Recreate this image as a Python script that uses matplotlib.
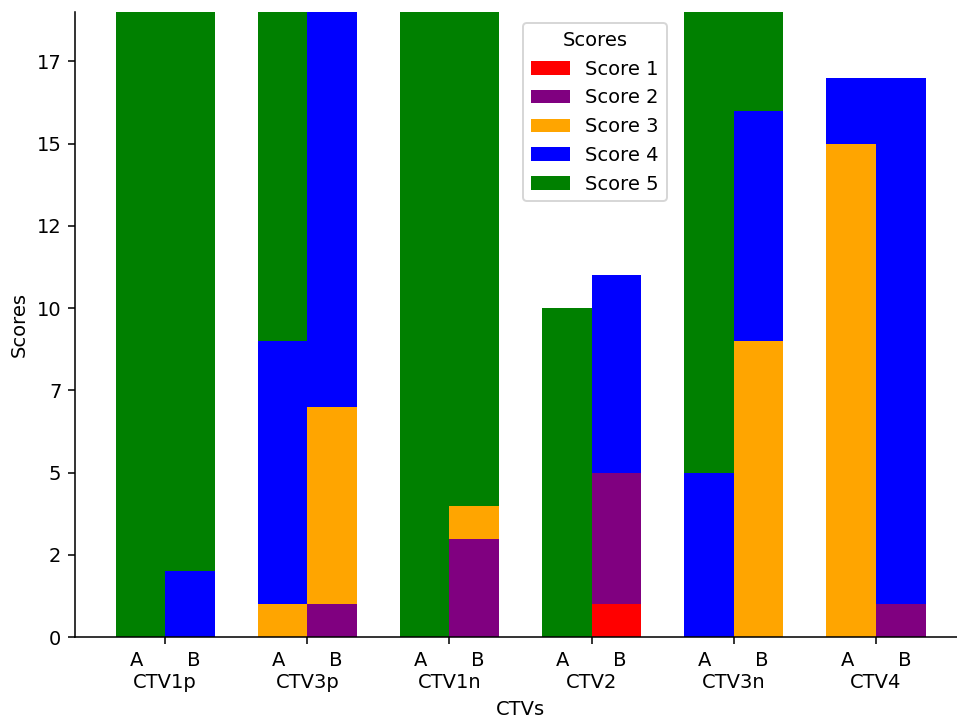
import numpy as np
import matplotlib
matplotlib.use("Agg")
import matplotlib.pyplot as plt
from matplotlib.ticker import FuncFormatter, MultipleLocator

ctvs = ['CTV1p', 'CTV3p', 'CTV1n', 'CTV2', 'CTV3n', 'CTV4']
readers = ['A', 'B']

# counts per bar, ordered CTV1p A, CTV1p B, CTV3p A, CTV3p B, ...
score1 = [0, 0, 0, 0, 0, 0, 0, 1, 0, 0, 0, 0]
score2 = [0, 0, 0, 1, 0, 3, 0, 4, 0, 0, 0, 1]
score3 = [0, 0, 1, 6, 0, 1, 0, 0, 0, 9, 15, 0]
score4 = [0, 2, 8, 13, 0, 0, 0, 6, 5, 7, 2, 16]
score5 = [20, 18, 11, 0, 20, 16, 10, 0, 15, 4, 0, 0]

scores = [score1, score2, score3, score4, score5]
labels = ['Score 1', 'Score 2', 'Score 3', 'Score 4', 'Score 5']
colors = ['red', 'purple', 'orange', 'blue', 'green']

DPI = 140
fig = plt.figure(figsize=(957/DPI, 715/DPI), dpi=DPI)
ax = fig.add_axes([75/957, 0.1087, 891/957, 0.8746])

width = 0.35
x = np.arange(len(ctvs))
pos = np.ravel(np.column_stack([x - width/2, x + width/2]))

bottom = np.zeros(len(pos))
for vals, lab, col in zip(scores, labels, colors):
    vals = np.array(vals, dtype=float)
    ax.bar(pos, vals, width, bottom=bottom, color=col, label=lab)
    bottom += vals

ax.set_xlim(x[0] - width - 0.285, x[-1] + width + 0.285)
ax.set_ylim(0, 19)
ax.yaxis.set_major_locator(MultipleLocator(2.5))
ax.yaxis.set_major_formatter(FuncFormatter(lambda v, p: f'{int(v)}'))

# reader letters on the first line, CTV name under them
gap = ' ' * 7
ax.set_xticks(x)
ax.set_xticklabels([f'{readers[0]}{gap}{readers[1]}\n{c}' for c in ctvs])

ax.set_xlabel('CTVs', labelpad=4)
ax.set_ylabel('Scores')

ax.spines['top'].set_visible(False)
ax.spines['right'].set_visible(False)

ax.legend(title='Scores', loc='upper left', bbox_to_anchor=(0.503, 0.982),
          borderaxespad=0)

fig.savefig('out.png', dpi=DPI)
